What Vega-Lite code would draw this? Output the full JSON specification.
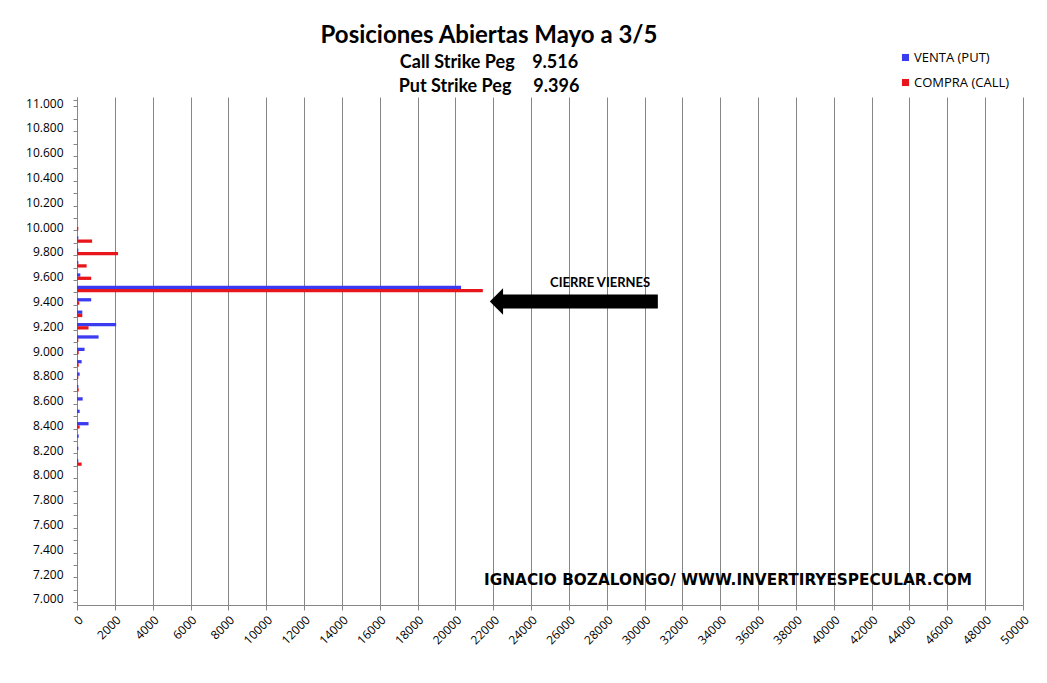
{
  "$schema": "https://vega.github.io/schema/vega-lite/v6.json",
  "autosize": {"type": "none"},
  "width": 946,
  "height": 508,
  "padding": {"left": 77, "top": 97, "right": 24, "bottom": 78},
  "background": "white",
  "config": {
    "view": {"stroke": null},
    "font": "Open Sans",
    "axis": {"labelColor": "#000000", "labelFont": "Open Sans", "titleFont": "Open Sans"}
  },
  "title": {
    "text": "Posiciones Abiertas Mayo a 3/5",
    "subtitle": ["Call Strike Peg\u00a0\u00a0\u00a0\u00a09.516", "Put Strike Peg\u00a0\u00a0\u00a0\u00a0\u00a09.396"],
    "anchor": "middle",
    "frame": "group",
    "dx": -61,
    "font": "Lato",
    "fontSize": 24,
    "fontWeight": "bold",
    "color": "#000000",
    "subtitleFont": "Lato",
    "subtitleFontSize": 18,
    "subtitleFontWeight": "bold",
    "subtitleColor": "#000000",
    "subtitleLineHeight": 24,
    "subtitlePadding": 6,
    "offset": -45
  },
  "encoding": {
    "x": {
      "field": "valor",
      "type": "quantitative",
      "scale": {"domain": [0, 50000], "nice": false},
      "axis": {
        "title": null,
        "values": [0, 2000, 4000, 6000, 8000, 10000, 12000, 14000, 16000, 18000, 20000, 22000, 24000, 26000, 28000, 30000, 32000, 34000, 36000, 38000, 40000, 42000, 44000, 46000, 48000, 50000],
        "tickCount": 40,
        "format": "d",
        "labelAngle": -45,
        "labelFontSize": 12,
        "labelOverlap": false,
        "labelBound": false,
        "grid": true,
        "gridColor": "#868686",
        "gridWidth": 1,
        "domainColor": "#868686",
        "tickColor": "#868686",
        "tickSize": 5,
        "labelPadding": 4
      }
    },
    "y": {
      "field": "strike",
      "type": "ordinal",
      "scale": {
        "domain": [11000, 10900, 10800, 10700, 10600, 10500, 10400, 10300, 10200, 10100, 10000, 9900, 9800, 9700, 9600, 9500, 9400, 9300, 9200, 9100, 9000, 8900, 8800, 8700, 8600, 8500, 8400, 8300, 8200, 8100, 8000, 7900, 7800, 7700, 7600, 7500, 7400, 7300, 7200, 7100, 7000],
        "paddingInner": 0.47,
        "paddingOuter": 0.235
      },
      "axis": {
        "title": null,
        "labelExpr": "datum.value % 200 == 0 ? replace(format(datum.value / 1000, '.3f'), ',', '.') : ''",
        "labelFontSize": 12,
        "labelPadding": 10,
        "tickBand": "extent",
        "tickSize": 4,
        "tickColor": "#868686",
        "domainColor": "#868686",
        "grid": false
      }
    }
  },
  "layer": [
    {
      "data": {
        "values": [
          {"strike": 10000, "tipo": "COMPRA (CALL)", "valor": 70},
          {"strike": 9900, "tipo": "VENTA (PUT)", "valor": 70},
          {"strike": 9900, "tipo": "COMPRA (CALL)", "valor": 800},
          {"strike": 9800, "tipo": "VENTA (PUT)", "valor": 70},
          {"strike": 9800, "tipo": "COMPRA (CALL)", "valor": 2170},
          {"strike": 9700, "tipo": "VENTA (PUT)", "valor": 70},
          {"strike": 9700, "tipo": "COMPRA (CALL)", "valor": 510},
          {"strike": 9600, "tipo": "VENTA (PUT)", "valor": 175},
          {"strike": 9600, "tipo": "COMPRA (CALL)", "valor": 750},
          {"strike": 9500, "tipo": "VENTA (PUT)", "valor": 20300},
          {"strike": 9500, "tipo": "COMPRA (CALL)", "valor": 21450},
          {"strike": 9400, "tipo": "VENTA (PUT)", "valor": 750},
          {"strike": 9400, "tipo": "COMPRA (CALL)", "valor": 120},
          {"strike": 9300, "tipo": "VENTA (PUT)", "valor": 280},
          {"strike": 9300, "tipo": "COMPRA (CALL)", "valor": 280},
          {"strike": 9200, "tipo": "VENTA (PUT)", "valor": 2070},
          {"strike": 9200, "tipo": "COMPRA (CALL)", "valor": 610},
          {"strike": 9100, "tipo": "VENTA (PUT)", "valor": 1140},
          {"strike": 9100, "tipo": "COMPRA (CALL)", "valor": 70},
          {"strike": 9000, "tipo": "VENTA (PUT)", "valor": 400},
          {"strike": 9000, "tipo": "COMPRA (CALL)", "valor": 90},
          {"strike": 8900, "tipo": "VENTA (PUT)", "valor": 245},
          {"strike": 8900, "tipo": "COMPRA (CALL)", "valor": 90},
          {"strike": 8800, "tipo": "VENTA (PUT)", "valor": 140},
          {"strike": 8800, "tipo": "COMPRA (CALL)", "valor": 70},
          {"strike": 8700, "tipo": "VENTA (PUT)", "valor": 70},
          {"strike": 8700, "tipo": "COMPRA (CALL)", "valor": 90},
          {"strike": 8600, "tipo": "VENTA (PUT)", "valor": 300},
          {"strike": 8500, "tipo": "VENTA (PUT)", "valor": 140},
          {"strike": 8400, "tipo": "VENTA (PUT)", "valor": 610},
          {"strike": 8400, "tipo": "COMPRA (CALL)", "valor": 140},
          {"strike": 8300, "tipo": "VENTA (PUT)", "valor": 90},
          {"strike": 8200, "tipo": "VENTA (PUT)", "valor": 70},
          {"strike": 8100, "tipo": "VENTA (PUT)", "valor": 70},
          {"strike": 8100, "tipo": "COMPRA (CALL)", "valor": 245}
        ]
      },
      "mark": {"type": "bar"},
      "encoding": {
        "yOffset": {
          "field": "tipo",
          "type": "nominal",
          "sort": ["VENTA (PUT)", "COMPRA (CALL)"],
          "scale": {"domain": ["VENTA (PUT)", "COMPRA (CALL)"], "paddingInner": 0, "paddingOuter": 0}
        },
        "color": {
          "field": "tipo",
          "type": "nominal",
          "scale": {"domain": ["VENTA (PUT)", "COMPRA (CALL)"], "range": ["#3B3BEF", "#E8161B"]},
          "legend": {
            "title": null,
            "orient": "none",
            "legendX": 822,
            "legendY": -46,
            "symbolType": "square",
            "symbolSize": 50,
            "symbolStrokeWidth": 0,
            "labelFont": "Open Sans",
            "labelFontSize": 13,
            "labelColor": "#000000",
            "rowPadding": 11,
            "labelOffset": 2
          }
        }
      }
    },
    {
      "data": {"values": [{"valor": 22500, "hasta": 30700, "strike": 9400}]},
      "mark": {"type": "rule", "color": "#000000", "strokeWidth": 14, "strokeCap": "butt"},
      "encoding": {
        "x2": {"field": "hasta"}
      }
    },
    {
      "data": {"values": [{"valor": 22520, "strike": 9400}]},
      "mark": {"type": "point", "shape": "M-1,0L0,-1L0,1Z", "size": 700, "filled": true, "color": "#000000", "opacity": 1, "strokeWidth": 0},
      "encoding": {}
    },
    {
      "data": {"values": [{"valor": 27650, "strike": 9600, "texto": "CIERRE VIERNES"}]},
      "mark": {"type": "text", "font": "Lato", "fontSize": 13, "fontWeight": "bold", "color": "#000000", "dy": 6, "align": "center", "baseline": "middle"},
      "encoding": {
        "text": {"field": "texto"}
      }
    },
    {
      "data": {"values": [{"valor": 34410, "strike": 7200, "texto": "IGNACIO BOZALONGO/ WWW.INVERTIRYESPECULAR.COM"}]},
      "mark": {"type": "text", "font": "DejaVu Sans", "fontSize": 15.3, "fontWeight": "bold", "color": "#000000", "dy": 6, "align": "center", "baseline": "middle"},
      "encoding": {
        "text": {"field": "texto"}
      }
    }
  ]
}
